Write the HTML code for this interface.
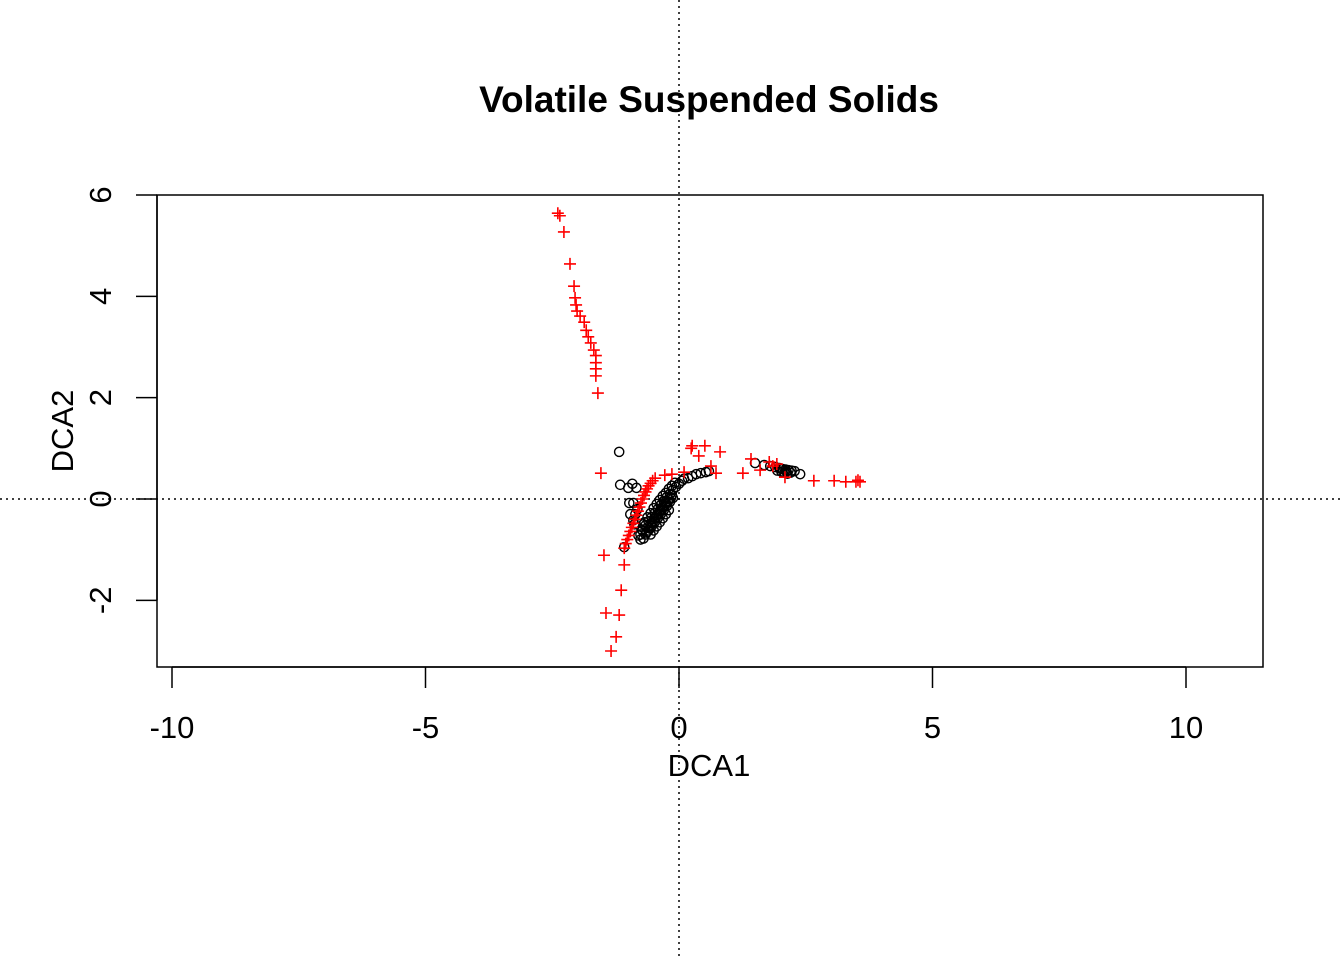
<!DOCTYPE html>
<html><head><meta charset="utf-8"><style>
body{margin:0;background:#fff}
svg text{font-family:"Liberation Sans",Arial,sans-serif}
</style></head><body>
<svg id="chart" width="1344" height="960" xmlns="http://www.w3.org/2000/svg">
<rect width="1344" height="960" fill="#fff"/>
<text x="709" y="112" font-size="37" font-weight="bold" text-anchor="middle">Volatile Suspended Solids</text>
<rect x="157" y="195" width="1106" height="472" fill="none" stroke="#000" stroke-width="1.5"/>
<g id="axes"></g>
<g id="marks"></g>
<text x="709" y="776" font-size="31" text-anchor="middle">DCA1</text>
<text transform="translate(73,431) rotate(-90)" font-size="31" text-anchor="middle">DCA2</text>
</svg>
<script>
const xTicks=[-10,-5,0,5,10];
const yTicks=[-2,0,2,4,6];
const sitesX=[-1.18,-1.16,-1.0,-0.92,-0.84,-0.98,-0.96,-1.08,-0.9,-0.76,-0.72,-0.66,-0.6,-0.54,-0.48,-0.42,-0.36,-0.3,-0.24,-0.18,-0.12,-0.06,0.0,0.06,0.1,-0.8,-0.74,-0.68,-0.62,-0.56,-0.5,-0.44,-0.38,-0.32,-0.26,-0.2,-0.14,-0.08,-0.7,-0.64,-0.58,-0.52,-0.46,-0.4,-0.34,-0.28,-0.22,-0.16,-0.88,-0.86,-0.9,-0.82,0.18,0.26,0.34,0.43,0.53,0.59,1.5,1.68,1.8,1.9,1.98,2.04,2.1,2.16,2.22,2.28,2.0,2.12,2.39,
-0.66,-0.6,-0.54,-0.48,-0.42,-0.36,-0.3,-0.24,-0.18,-0.12,-0.62,-0.56,-0.5,-0.44,-0.38,-0.32,-0.26,-0.2,-0.14,-0.56,-0.5,-0.44,-0.38,-0.32,-0.26,-0.2,-0.7,-0.76,1.94,2.02,2.08,2.14,2.2];
const sitesY=[0.93,0.28,0.22,0.3,0.22,-0.08,-0.3,-0.95,-0.42,-0.8,-0.62,-0.52,-0.44,-0.36,-0.28,-0.2,-0.12,-0.04,0.04,0.1,0.18,0.24,0.3,0.36,0.4,-0.72,-0.6,-0.46,-0.36,-0.28,-0.18,-0.1,-0.02,0.06,0.12,0.2,0.26,0.32,-0.5,-0.66,-0.58,-0.48,-0.38,-0.3,-0.22,-0.14,-0.06,0.02,-0.5,-0.3,-0.08,-0.2,0.41,0.45,0.49,0.51,0.53,0.55,0.71,0.67,0.65,0.63,0.61,0.59,0.58,0.57,0.56,0.55,0.6,0.54,0.49,
-0.7,-0.62,-0.54,-0.46,-0.38,-0.3,-0.22,-0.14,-0.06,0.02,-0.56,-0.48,-0.4,-0.32,-0.24,-0.16,-0.08,0.0,0.08,-0.7,-0.62,-0.54,-0.46,-0.38,-0.3,-0.22,-0.78,-0.7,0.56,0.54,0.52,0.5,0.52];
const speciesX=[-2.39,-2.35,-2.27,-2.15,-2.07,-2.05,-2.03,-2.01,-1.95,-1.87,-1.83,-1.79,-1.74,-1.68,-1.64,-1.64,-1.64,-1.64,-1.6,-1.48,-1.08,-1.14,-1.44,-1.18,-1.24,-1.34,-1.54,-1.08,-1.05,-1.02,-0.99,-0.96,-0.93,-0.9,-0.87,-0.84,-0.81,-0.78,-0.75,-0.72,-0.69,-0.66,-0.63,-0.6,-0.56,-0.52,-0.47,-0.28,-0.14,0.1,0.26,0.24,0.51,0.39,0.81,0.63,0.73,1.26,1.42,1.6,1.78,1.85,1.93,2.09,2.66,3.06,3.29,3.49,3.53,3.57];
const speciesY=[5.64,5.59,5.27,4.64,4.2,3.97,3.83,3.71,3.61,3.49,3.33,3.2,3.08,2.94,2.83,2.69,2.57,2.43,2.09,-1.11,-1.3,-1.8,-2.25,-2.29,-2.72,-3.0,0.51,-0.97,-0.88,-0.8,-0.72,-0.64,-0.56,-0.48,-0.4,-0.32,-0.24,-0.16,-0.08,0.0,0.07,0.14,0.2,0.26,0.31,0.36,0.41,0.47,0.49,0.53,1.05,1.0,1.05,0.85,0.93,0.65,0.51,0.51,0.79,0.57,0.73,0.65,0.69,0.43,0.36,0.36,0.34,0.34,0.37,0.34];
const NS="http://www.w3.org/2000/svg";
const sx=v=>679+v*50.7, sy=v=>499-v*50.67;
const axes=document.getElementById('axes'), marks=document.getElementById('marks');
function mk(tag,attrs,parent){const e=document.createElementNS(NS,tag);for(const k in attrs)e.setAttribute(k,attrs[k]);parent.appendChild(e);return e;}
let l=mk('line',{x1:sx(0),x2:sx(0),y1:0,y2:960,stroke:'#000','stroke-width':1.5,'stroke-dasharray':'2,4'},axes);


l=mk('line',{x1:0,x2:1344,y1:sy(0),y2:sy(0),stroke:'#000','stroke-width':1.5,'stroke-dasharray':'2,4'},axes);


l=mk('line',{x1:sx(xTicks[0]),x2:sx(xTicks[xTicks.length-1]),y1:667,y2:667,stroke:'#000','stroke-width':1.5},axes);


l=mk('line',{x1:157,x2:157,y1:sy(yTicks[0]),y2:sy(yTicks[yTicks.length-1]),stroke:'#000','stroke-width':1.5},axes);


xTicks.forEach(t=>{
  const a=mk('line',{x1:sx(t),x2:sx(t),y1:667,y2:688,stroke:'#000','stroke-width':1.5},axes);
  
  
  const tx=mk('text',{x:sx(t),y:738,'font-size':31,'text-anchor':'middle'},axes);tx.textContent=t;
  
  
});
yTicks.forEach(t=>{
  const a=mk('line',{x1:136,x2:157,y1:sy(t),y2:sy(t),stroke:'#000','stroke-width':1.5},axes);
  
  
  const tx=mk('text',{transform:`translate(111,${sy(t)}) rotate(-90)`,'font-size':31,'text-anchor':'middle'},axes);tx.textContent=t;
  
  
});
sitesX.forEach((v,i)=>{
  const c=mk('circle',{cx:sx(v),cy:sy(sitesY[i]),r:4.6,fill:'none',stroke:'#000','stroke-width':1.4},marks);
  
  
});
speciesX.forEach((v,i)=>{
  const x=sx(v),y=sy(speciesY[i]);
  const p=mk('path',{d:`M${x-6},${y}H${x+6}M${x},${y-6}V${y+6}`,stroke:'#f00','stroke-width':1.6},marks);
  
  
});
</script>
</body></html>
